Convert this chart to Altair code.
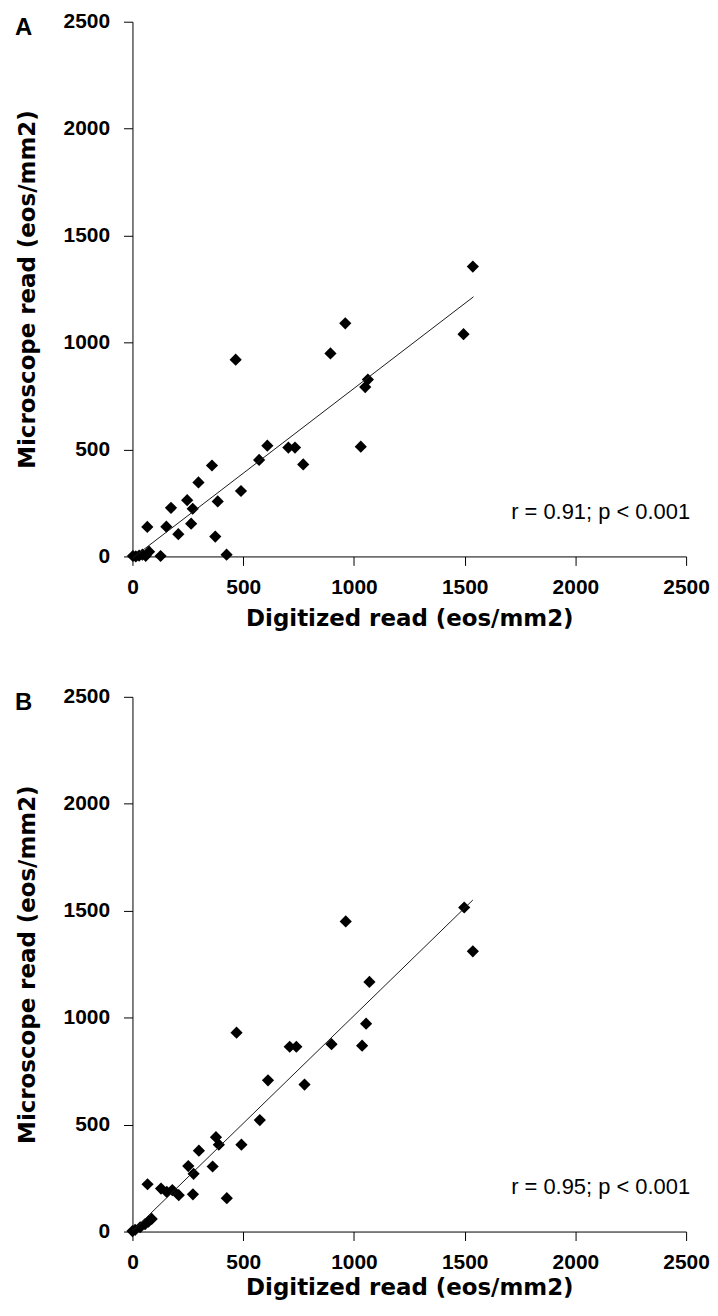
import altair as alt
import pandas as pd

# ---- Panel A data (digitized vs microscope read) ----
a_digitized = [961, 894, 1495, 1537, 466, 1063, 1051, 609, 704, 734, 1031, 572, 771,
               359, 490, 298, 247, 272, 385, 174, 153, 265, 67, 207, 374, 425, 127,
               2, 15, 30, 45, 60, 75]
a_microscope = [1090, 949, 1039, 1355, 920, 827, 792, 518, 509, 509, 513, 451, 430,
                425, 306, 346, 263, 223, 257, 227, 139, 153, 138, 104, 93, 8, 2,
                2, 0, 4, 8, 3, 22]

# ---- Panel B data ----
b_digitized = [1070, 1055, 1037, 899, 710, 740, 470, 612, 777, 575, 377, 390, 492,
               300, 362, 252, 276, 273, 68, 129, 155, 180, 209, 426, 87, 72, 57,
               35, 12, 0, 1498, 1537, 963]
b_microscope = [1167, 972, 869, 876, 864, 864, 930, 707, 687, 521, 441, 406, 406,
                378, 304, 306, 270, 174, 221, 201, 185, 194, 170, 156, 59, 46, 35,
                20, 8, 2, 1515, 1310, 1450]

# ---- Trend lines (end points) ----
a_fit_x = [0, 1540]
a_fit_y = [-8, 1214]
b_fit_x = [0, 1537]
b_fit_y = [2, 1550]

tick_values = [0, 500, 1000, 1500, 2000, 2500]
panel_labels = ["A", "B"]
stats_text = ["r = 0.91; p < 0.001", "r = 0.95; p < 0.001"]
x_title = "Digitized read (eos/mm2)"
y_title = "Microscope read (eos/mm2)"

W, H = 556, 537


def panel(dig, mic, fx, fy, label, stat, x_title_pad):
    pts = pd.DataFrame({"d": dig, "m": mic})
    fit = pd.DataFrame({"d": fx, "m": fy})
    txt = pd.DataFrame({"t": [stat]})
    lab = pd.DataFrame({"t": [label]})
    xs = alt.Scale(domain=[0, 2500], nice=False, zero=False)
    ys = alt.Scale(domain=[0, 2500], nice=False, zero=False)
    xax = alt.Axis(values=tick_values, title=x_title, titlePadding=x_title_pad,
                   labelPadding=11, labelFlush=False, format="d")
    yax = alt.Axis(values=tick_values, title=y_title, titlePadding=24,
                   labelPadding=14, labelFlush=False, format="d")
    points = alt.Chart(pts).mark_point(
        shape="diamond", filled=True, color="black", opacity=1, size=150
    ).encode(
        x=alt.X("d:Q", scale=xs, axis=xax),
        y=alt.Y("m:Q", scale=ys, axis=yax),
    )
    line = alt.Chart(fit).mark_line(color="#1a1a1a", strokeWidth=1).encode(
        x=alt.X("d:Q", scale=xs),
        y=alt.Y("m:Q", scale=ys),
    )
    text = alt.Chart(txt).mark_text(
        align="right", baseline="alphabetic", font="Liberation Sans",
        fontSize=22, color="black"
    ).encode(text="t:N", x=alt.value(560), y=alt.value(499))
    letter = alt.Chart(lab).mark_text(
        align="left", baseline="alphabetic", font="Liberation Sans",
        fontSize=24, fontWeight="bold", color="black"
    ).encode(text="t:N", x=alt.value(-118), y=alt.value(13))
    return alt.layer(points, line, text, letter).properties(width=W, height=H)


chart_a = panel(a_digitized, a_microscope, a_fit_x, a_fit_y,
                panel_labels[0], stats_text[0], 10)
chart_b = panel(b_digitized, b_microscope, b_fit_x, b_fit_y,
                panel_labels[1], stats_text[1], 4)

chart = alt.vconcat(chart_a, chart_b, spacing=56).properties(
    padding={"left": 7, "top": 0, "right": 0, "bottom": 2}
).configure_view(stroke=None).configure_axis(
    domainColor="black", domainWidth=1, tickColor="black", tickWidth=1,
    tickSize=9, labelFont="Liberation Sans", labelFontSize=21,
    labelFontWeight="bold", labelColor="black", titleFont="DejaVu Sans",
    titleFontSize=23, titleFontWeight="bold", titleColor="black", grid=False,
)

chart.save("out.html", embed_options={"renderer": "svg", "actions": False})
